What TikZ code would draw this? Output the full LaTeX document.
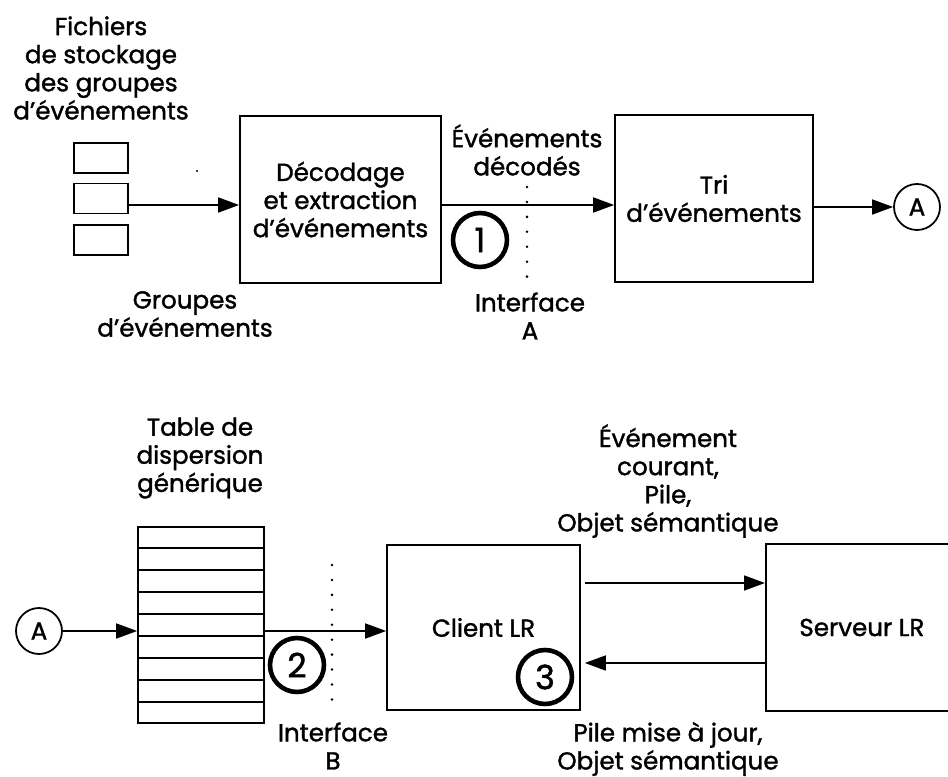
\documentclass[tikz,border=0pt]{standalone}
\usepackage{fontspec}
\setmainfont{Poppins}[FakeBold=1.4]
\usepackage{tikz}
\usetikzlibrary{positioning,arrows.meta,calc}
\newcommand{\lbl}{\fontsize{14}{16}\selectfont}
\newcommand{\numfont}{\fontsize{19}{20}\selectfont}
\tikzset{
  blk/.style={draw,line width=1pt,align=center,inner sep=2pt},
  txt/.style={align=center,inner sep=0pt},
  store/.style={draw,line width=1pt,minimum width=1.08cm,minimum height=0.6cm},
  conn/.style={draw,circle,line width=1pt,minimum size=0.92cm,inner sep=0pt},
  num/.style={draw,circle,line width=2.6pt,minimum size=1.08cm,inner sep=0pt,font=\numfont},
  flow/.style={line width=1pt,-{Triangle[length=0.42cm,width=0.3cm]}},
  iface/.style={line width=1.6pt,line cap=round,dash pattern=on 0pt off 8.5pt}
}

\begin{document}
\begin{tikzpicture}[x=0.02cm,y=-0.02cm,font=\lbl]
  \useasboundingbox (0,0) rectangle (948,777);
  % haut : stockage -> decodage -> tri
  \node[txt] (fich) at (101,68) {Fichiers\\de stockage\\des groupes\\d'événements};
  \foreach \i/\yy in {1/158,2/198.5,3/240} {\node[store] (stor\i) at (101,\yy) {};}
  \node[blk,minimum width=4.02cm,minimum height=3.34cm] (dec) at (340.5,199.5) {Décodage\\et extraction\\d'événements};
  \node[blk,minimum width=3.96cm,minimum height=3.34cm] (tri) at (714,198.5) {Tri\\d'événements};
  \node[conn] (ahaut) at (917,207) {A};
  \coordinate (lh) at (0,205);
  \draw[flow] (stor2.east |- lh) -- (dec.west |- lh);
  \draw[flow] (dec.east |- lh) -- (tri.west |- lh);
  \draw[flow] (tri.east |- ahaut) -- (ahaut);
  \fill (197,171) circle (0.7pt);
  \node[txt] (grp) at (185,314) {Groupes\\d'événements};
  \node[txt] (evdec) at (527,150) {Événements\\décodés};
  \node[num] (n1) at (480,240) {1};
  \coordinate (ia1) at (527,187);
  \coordinate (ia2) at (527,278);
  \draw[iface] (ia1) -- (ia2);
  \node[txt] (ifa) at (530,316) {Interface\\A};

  % bas : table -> client <-> serveur
  \node[txt] (tdesc) at (200,458) {Table de\\dispersion\\générique};
  \node[draw,line width=1pt,minimum width=2.52cm,minimum height=3.92cm] (tbl) at (201,625) {};
  \foreach \k in {1,...,8}
    {\draw[line width=1pt] ($(tbl.north west)!\k/9!(tbl.south west)$) -- ($(tbl.north east)!\k/9!(tbl.south east)$);}
  \node[conn] (abas) at (39,631) {A};
  \draw[flow] (abas) -- (tbl.west |- abas);
  \node[blk,minimum width=3.86cm,minimum height=3.3cm] (cli) at (483.5,627.5) {Client LR};
  \node[blk,minimum width=3.84cm,minimum height=3.34cm,anchor=west] (srv) at (765,627.5) {Serveur LR};
  \draw[flow] (tbl.east |- abas) -- (cli.west |- abas);
  \coordinate (lreq) at (0,583);
  \coordinate (lrep) at (0,663);
  \draw[flow] ($(cli.east |- lreq)+(4,0)$) -- (srv.west |- lreq);
  \draw[flow] (srv.west |- lrep) -- ($(cli.east |- lrep)+(4,0)$);
  \node[num] (n2) at (297,665) {2};
  \node[num] (n3) at (545,677) {3};
  \coordinate (ib1) at (332,565);
  \coordinate (ib2) at (332,700);
  \draw[iface] (ib1) -- (ib2);
  \node[txt] (ifb) at (333,746) {Interface\\B};
  \node[txt] (req) at (668,481) {Événement\\courant,\\Pile,\\Objet sémantique};
  \node[txt] (rep) at (668,749) {Pile mise à jour,\\Objet sémantique};
\end{tikzpicture}
\end{document}
